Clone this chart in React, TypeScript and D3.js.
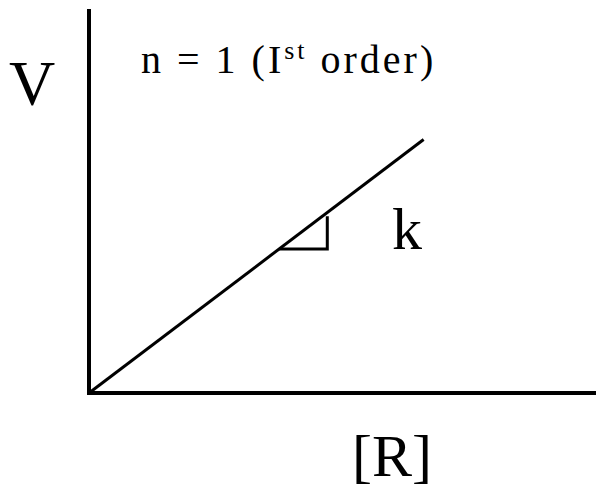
import React from "react";
import * as d3 from "d3";

const W = 596;
const H = 489;

// Axis domain
const xDomain = [0, 10];
const yDomain = [0, 10];

// First-order rate line: V = k[R]
const rateLineR = [0, 6.6];
const rateLineV = [0, 6.6];

// Slope triangle
const slopeR = [3.75, 4.7, 4.7];
const slopeV = [3.75, 3.75, 4.6];

const titleMain = "n = 1 (I";
const titleSup = "st";
const titleEnd = " order)";
const yLabel = "V";
const xLabel = "[R]";
const slopeLabel = "k";

export default function App() {
  const x = d3.scaleLinear().domain(xDomain).range([89, 596]);
  const y = d3.scaleLinear().domain(yDomain).range([393, 9]);

  const line = d3
    .line<[number, number]>()
    .x((d) => x(d[0]))
    .y((d) => y(d[1]));

  const ratePts: [number, number][] = rateLineR.map((r, i) => [r, rateLineV[i]]);
  const slopePts: [number, number][] = slopeR.map((r, i) => [r, slopeV[i]]);

  const fontStyle = {
    fontFamily:
      '"Liberation Serif", "Times New Roman", Times, "Nimbus Roman", "DejaVu Serif", serif',
  };

  return (
    <svg
      width={W}
      height={H}
      style={{ position: "absolute", left: 0, top: 0, background: "#fff" }}
    >
      <rect width={W} height={H} fill="#fff" />
      {/* axes */}
      <line x1={x(0)} y1={y(0)} x2={x(0)} y2={y(10)} stroke="#000" strokeWidth={4} />
      <line x1={x(0) - 2} y1={y(0)} x2={x(10)} y2={y(0)} stroke="#000" strokeWidth={4} />
      {/* rate line */}
      <path d={line(ratePts) || ""} fill="none" stroke="#000" strokeWidth={3} />
      {/* slope triangle */}
      <path d={line(slopePts) || ""} fill="none" stroke="#000" strokeWidth={3} />

      <text x={9} y={105} style={fontStyle} fontSize={64} fill="#000">
        {yLabel}
      </text>
      <text
        x={141}
        y={73}
        style={{ ...fontStyle, letterSpacing: "3px" }}
        fontSize={40}
        fill="#000"
      >
        {titleMain}
        <tspan fontSize={26} dy={-14}>{titleSup}</tspan>
        <tspan dy={14}>{titleEnd}</tspan>
      </text>
      <text x={392} y={249} style={fontStyle} fontSize={60} fill="#000">
        {slopeLabel}
      </text>
      <text x={352} y={476} style={fontStyle} fontSize={60} fill="#000">
        {xLabel}
      </text>
    </svg>
  );
}
